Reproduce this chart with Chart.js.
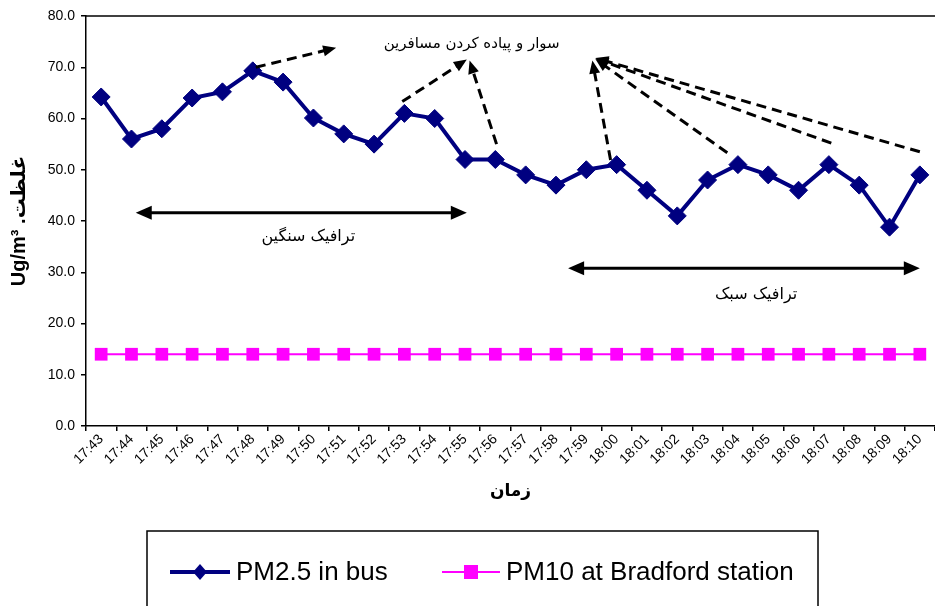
<!DOCTYPE html>
<html>
<head>
<meta charset="utf-8">
<script src="https://cdn.jsdelivr.net/npm/chart.js@4.4.1/dist/chart.umd.min.js"></script>
<style>
    html, body { margin: 0; padding: 0; background: #fff; overflow: hidden; }
    #caja { width: 945px; height: 606px; position: relative; }
</style>
</head>
<body>
<div id="caja"><canvas id="miGrafico"></canvas></div>
<script>
var horas = ['17:43','17:44','17:45','17:46','17:47','17:48','17:49','17:50','17:51','17:52',
             '17:53','17:54','17:55','17:56','17:57','17:58','17:59','18:00','18:01','18:02',
             '18:03','18:04','18:05','18:06','18:07','18:08','18:09','18:10'];
var pm25 = [64.2, 56.0, 58.0, 64.0, 65.2, 69.3, 67.1, 60.1, 57.0, 55.0,
            61.0, 60.0, 52.0, 52.0, 49.0, 47.0, 50.0, 51.0, 46.0, 41.0,
            48.0, 51.0, 49.0, 46.0, 51.0, 47.0, 38.8, 49.0];
var pm10 = [14, 14, 14, 14, 14, 14, 14, 14, 14, 14, 14, 14, 14, 14,
            14, 14, 14, 14, 14, 14, 14, 14, 14, 14, 14, 14, 14, 14];
var yTicks = [0, 10, 20, 30, 40, 50, 60, 70, 80];

// flechas punteadas: [indice desde, valor desde, indice hasta, valor hasta]
var flechasPunteadas = [
    [5.1, 70.0, 7.75, 73.8],
    [9.93, 63.3, 12.06, 71.5],
    [13.04, 55.0, 12.15, 71.3],
    [16.8, 51.9, 16.2, 71.3],
    [20.65, 53.3, 16.3, 71.6],
    [24.08, 55.2, 16.3, 71.7],
    [27.0, 53.5, 16.3, 71.8]
];
// flechas dobles: [indice desde, indice hasta, valor]
var flechasDobles = [
    [1.14, 12.06, 41.6],
    [15.4, 27.0, 30.8]
];
// textos: [texto, indice, valor, tamano]
var textos = [
    ['سوار و پیاده کردن مسافرین', 12.22, 74.6, 15],
    ['ترافیک سنگین', 6.83, 36.9, 16],
    ['ترافیک سبک', 21.6, 25.6, 16]
];

var fuenteArabe = '"DejaVu Sans", serif';

function puntaFlecha(ctx, x0, y0, x1, y1, largo, ancho) {
    var ang = Math.atan2(y1 - y0, x1 - x0);
    ctx.save();
    ctx.translate(x1, y1);
    ctx.rotate(ang);
    ctx.beginPath();
    ctx.moveTo(0, 0);
    ctx.lineTo(-largo, -ancho / 2);
    ctx.lineTo(-largo, ancho / 2);
    ctx.closePath();
    ctx.fill();
    ctx.restore();
}

/*=============================================
=            Anotaciones y leyenda            =
=============================================*/
var anotaciones = {
    id: 'anotaciones',
    beforeDatasetsDraw: function(chart) {
        var ctx = chart.ctx, a = chart.chartArea;
        // linea superior del area del grafico
        ctx.save();
        ctx.strokeStyle = '#000';
        ctx.lineWidth = 1.5;
        ctx.beginPath();
        ctx.moveTo(a.left, a.top);
        ctx.lineTo(a.right, a.top);
        ctx.stroke();
        ctx.restore();
    },
    afterDatasetsDraw: function(chart) {
        var ctx = chart.ctx;
        var sx = chart.scales.x, sy = chart.scales.y;
        ctx.save();
        ctx.strokeStyle = '#000';
        ctx.fillStyle = '#000';

        ctx.lineWidth = 3;
        for (var i = 0; i < flechasPunteadas.length; i++) {
            var f = flechasPunteadas[i];
            var x0 = sx.getPixelForValue(f[0]), y0 = sy.getPixelForValue(f[1]);
            var x1 = sx.getPixelForValue(f[2]), y1 = sy.getPixelForValue(f[3]);
            var ang = Math.atan2(y1 - y0, x1 - x0);
            ctx.setLineDash([10, 6]);
            ctx.beginPath();
            ctx.moveTo(x0, y0);
            ctx.lineTo(x1 - Math.cos(ang) * 8, y1 - Math.sin(ang) * 8);
            ctx.stroke();
            ctx.setLineDash([]);
            puntaFlecha(ctx, x0, y0, x1, y1, 13, 11);
        }

        ctx.lineWidth = 3;
        for (var j = 0; j < flechasDobles.length; j++) {
            var d = flechasDobles[j];
            var xa = sx.getPixelForValue(d[0]), xb = sx.getPixelForValue(d[1]);
            var yy = sy.getPixelForValue(d[2]);
            ctx.beginPath();
            ctx.moveTo(xa + 10, yy);
            ctx.lineTo(xb - 10, yy);
            ctx.stroke();
            puntaFlecha(ctx, xb, yy, xa, yy, 16, 14);
            puntaFlecha(ctx, xa, yy, xb, yy, 16, 14);
        }

        ctx.textAlign = 'center';
        ctx.textBaseline = 'middle';
        for (var k = 0; k < textos.length; k++) {
            var t = textos[k];
            ctx.font = t[3] + 'px ' + fuenteArabe;
            ctx.fillText(t[0], sx.getPixelForValue(t[1]), sy.getPixelForValue(t[2]));
        }
        ctx.restore();
    },
    afterDraw: function(chart) {
        var ctx = chart.ctx;
        var ds = chart.data.datasets;
        ctx.save();
        // caja de la leyenda
        ctx.strokeStyle = '#000';
        ctx.lineWidth = 1.5;
        ctx.strokeRect(147, 531, 671, 100);

        ctx.font = '26px "Liberation Sans", Arial, sans-serif';
        ctx.textBaseline = 'middle';
        var items = [{ x: 170, largo: 60 }, { x: 442, largo: 58 }];
        for (var i = 0; i < ds.length; i++) {
            var it = items[i], yy = 572, cx = it.x + it.largo / 2;
            ctx.strokeStyle = ds[i].borderColor;
            ctx.fillStyle = ds[i].backgroundColor;
            ctx.lineWidth = ds[i].borderWidth;
            ctx.beginPath();
            ctx.moveTo(it.x, yy);
            ctx.lineTo(it.x + it.largo, yy);
            ctx.stroke();
            ctx.beginPath();
            if (ds[i].pointStyle === 'rectRot') {
                ctx.moveTo(cx, yy - 8); ctx.lineTo(cx + 7, yy); ctx.lineTo(cx, yy + 8); ctx.lineTo(cx - 7, yy);
            } else {
                ctx.rect(cx - 7, yy - 7, 14, 14);
            }
            ctx.closePath();
            ctx.fill();
            ctx.fillStyle = '#000';
            ctx.textAlign = 'left';
            ctx.fillText(ds[i].label, it.x + it.largo + 6, yy + 1);
        }
        ctx.restore();
    }
};
/*=====  End of Anotaciones y leyenda  ======*/

var mostrar = document.getElementById('miGrafico');

var grafico = new Chart(mostrar, {
    type: 'line',
    data: {
        labels: horas,
        datasets: [
        {
            data: pm25,
            label: 'PM2.5 in bus',
            borderColor: '#000080',
            backgroundColor: '#000080',
            borderWidth: 4,
            pointStyle: 'rectRot',
            pointRadius: 9,
            pointHoverRadius: 9,
            pointBorderWidth: 1,
            fill: false,
            tension: 0
        },
        {
            data: pm10,
            label: 'PM10 at Bradford station',
            borderColor: '#FF00FF',
            backgroundColor: '#FF00FF',
            borderWidth: 2,
            pointStyle: 'rect',
            pointRadius: 9,
            pointHoverRadius: 9,
            pointBorderWidth: 0,
            fill: false,
            tension: 0
        }
        ]
    },
    options: {
        responsive: true,
        maintainAspectRatio: false,
        animation: false,
        events: [],
        layout: { padding: { left: 0, top: 16, right: 2, bottom: 100 } },
        plugins: {
            legend: { display: false },
            tooltip: { enabled: false }
        },
        scales: {
            x: {
                offset: true,
                grid: { offset: true, drawOnChartArea: false, color: '#000', tickLength: 5, lineWidth: 1.5 },
                border: { color: '#000', width: 1.5 },
                ticks: {
                    color: '#000',
                    font: { family: '"Liberation Sans", Arial, sans-serif', size: 14 },
                    minRotation: 45,
                    maxRotation: 45,
                    autoSkip: false,
                    padding: 0
                },
                title: {
                    display: true,
                    text: 'زمان',
                    color: '#000',
                    font: { family: '"DejaVu Sans", sans-serif', size: 17, weight: 'bold' },
                    padding: { top: 0, bottom: 4 }
                },
                afterFit: function(scale) { scale.height = 80; }
            },
            y: {
                min: 0,
                max: 80,
                afterBuildTicks: function(scale) {
                    scale.ticks = yTicks.map(function(v) { return { value: v }; });
                },
                grid: { drawOnChartArea: false, color: '#000', tickLength: 5, lineWidth: 1.5 },
                border: { color: '#000', width: 1.5 },
                ticks: {
                    color: '#000',
                    font: { family: '"Liberation Sans", Arial, sans-serif', size: 14 },
                    padding: 6,
                    callback: function(v) { return Number(v).toFixed(1); }
                },
                title: {
                    display: true,
                    text: 'Ug/m³ .غلظت',
                    color: '#000',
                    font: { family: '"Liberation Sans", "DejaVu Sans", sans-serif', size: 20, weight: 'bold' },
                    padding: { top: 7, bottom: 0 }
                },
                afterFit: function(scale) { scale.width = 86; }
            }
        }
    },
    plugins: [anotaciones]
});
</script>
</body>
</html>
